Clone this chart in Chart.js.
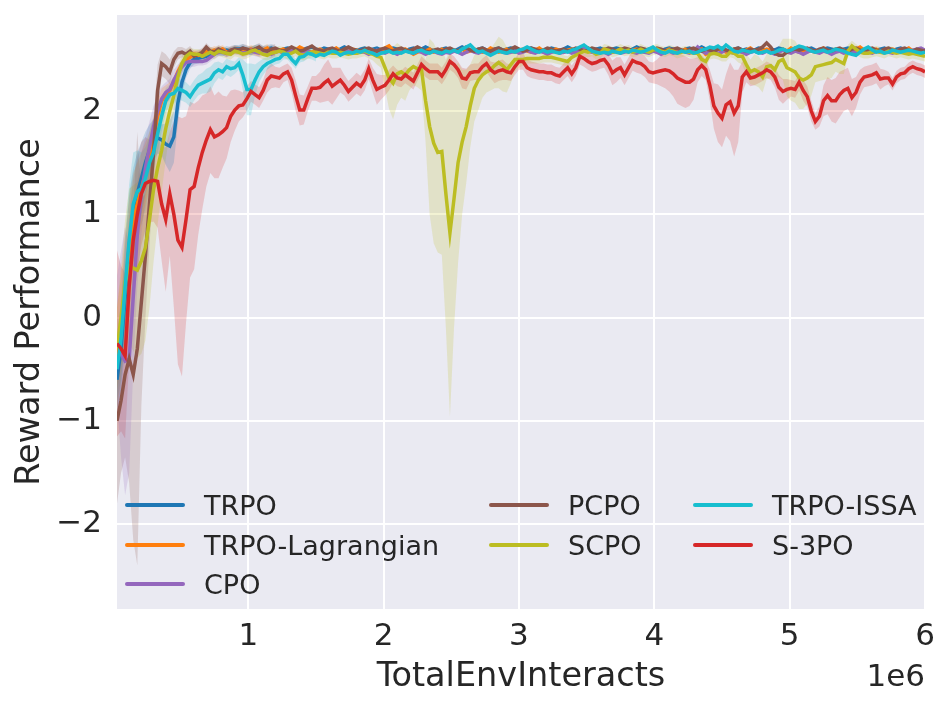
<!DOCTYPE html>
<html>
<head>
<meta charset="utf-8">
<script src="https://cdn.jsdelivr.net/npm/chart.js@4.4.1/dist/chart.umd.min.js"></script>
<style>
  html, body { margin: 0; padding: 0; background: #fff; }
  #wrap { width: 950px; height: 710px; }
</style>
</head>
<body>
<div id="wrap"><canvas id="chart" width="950" height="710"></canvas></div>
<script>
// one point every 30000 env steps, 200 epochs
const stepsPerEpoch = 30000;
const epochs = 200;
const totalEnvInteracts = [];
for (let i = 1; i <= epochs; i++) totalEnvInteracts.push(i * stepsPerEpoch);

const xTicks = [1e6, 2e6, 3e6, 4e6, 5e6, 6e6];
const yTicks = [-2, -1, 0, 1, 2];

const trpo = [
  -0.60, -0.30, 0.20, 0.70, 1.00, 1.20, 1.35, 1.50, 1.62, 1.72,
  1.74, 1.72, 1.68, 1.66, 1.75, 2.08, 2.28, 2.40, 2.47, 2.50,
  2.51, 2.52, 2.53, 2.55, 2.57, 2.58, 2.57, 2.59, 2.58, 2.60,
  2.60, 2.61, 2.59, 2.58, 2.60, 2.61, 2.59, 2.60, 2.61, 2.59,
  2.58, 2.60, 2.61, 2.60, 2.59, 2.58, 2.60, 2.61, 2.62, 2.60,
  2.59, 2.61, 2.60, 2.58, 2.59, 2.60, 2.62, 2.60, 2.59, 2.58,
  2.60, 2.61, 2.59, 2.60, 2.61, 2.59, 2.58, 2.60, 2.61, 2.60,
  2.59, 2.58, 2.60, 2.61, 2.59, 2.60, 2.62, 2.60, 2.58, 2.59,
  2.60, 2.61, 2.59, 2.58, 2.60, 2.62, 2.60, 2.59, 2.58, 2.60,
  2.61, 2.59, 2.58, 2.60, 2.61, 2.59, 2.60, 2.61, 2.60, 2.59,
  2.58, 2.60, 2.61, 2.59, 2.60, 2.58, 2.59, 2.61, 2.60, 2.59,
  2.60, 2.62, 2.60, 2.59, 2.58, 2.60, 2.61, 2.59, 2.60, 2.61,
  2.59, 2.58, 2.60, 2.61, 2.60, 2.59, 2.58, 2.60, 2.62, 2.60,
  2.59, 2.60, 2.61, 2.59, 2.58, 2.60, 2.61, 2.60, 2.59, 2.58,
  2.60, 2.61, 2.59, 2.60, 2.62, 2.60, 2.58, 2.59, 2.61, 2.60,
  2.59, 2.58, 2.60, 2.61, 2.59, 2.60, 2.58, 2.59, 2.61, 2.60,
  2.58, 2.60, 2.59, 2.61, 2.60, 2.58, 2.59, 2.61, 2.60, 2.59,
  2.60, 2.61, 2.59, 2.58, 2.60, 2.61, 2.60, 2.59, 2.58, 2.60,
  2.61, 2.59, 2.60, 2.58, 2.59, 2.61, 2.60, 2.59, 2.60, 2.61,
  2.59, 2.58, 2.60, 2.61, 2.59, 2.60, 2.58, 2.59, 2.60, 2.58
];
const trpoLagrangian = [
  -0.40, -0.10, 0.30, 0.65, 0.95, 1.10, 1.25, 1.40, 1.55, 1.75,
  1.95, 2.10, 2.15, 2.20, 2.28, 2.38, 2.45, 2.50, 2.52, 2.55,
  2.54, 2.56, 2.58, 2.57, 2.59, 2.58, 2.60, 2.57, 2.58, 2.59,
  2.59, 2.57, 2.58, 2.60, 2.58, 2.57, 2.59, 2.61, 2.58, 2.57,
  2.59, 2.60, 2.58, 2.57, 2.59, 2.62, 2.60, 2.58, 2.57, 2.59,
  2.60, 2.58, 2.57, 2.59, 2.61, 2.58, 2.57, 2.58, 2.60, 2.59,
  2.57, 2.58, 2.60, 2.59, 2.57, 2.58, 2.61, 2.63, 2.59, 2.58,
  2.57, 2.60, 2.58, 2.55, 2.57, 2.59, 2.58, 2.60, 2.57, 2.58,
  2.60, 2.58, 2.57, 2.59, 2.58, 2.60, 2.57, 2.58, 2.60, 2.59,
  2.57, 2.58, 2.61, 2.59, 2.57, 2.58, 2.60, 2.58, 2.57, 2.59,
  2.60, 2.58, 2.57, 2.59, 2.61, 2.58, 2.57, 2.58, 2.60, 2.59,
  2.57, 2.59, 2.60, 2.58, 2.57, 2.59, 2.61, 2.58, 2.57, 2.58,
  2.60, 2.59, 2.57, 2.58, 2.60, 2.58, 2.57, 2.59, 2.60, 2.58,
  2.57, 2.59, 2.61, 2.58, 2.57, 2.58, 2.60, 2.59, 2.57, 2.58,
  2.60, 2.58, 2.57, 2.59, 2.60, 2.55, 2.57, 2.58, 2.60, 2.59,
  2.57, 2.58, 2.60, 2.58, 2.57, 2.59, 2.61, 2.58, 2.57, 2.58,
  2.60, 2.59, 2.57, 2.58, 2.60, 2.58, 2.61, 2.59, 2.57, 2.58,
  2.60, 2.58, 2.57, 2.59, 2.61, 2.58, 2.57, 2.58, 2.60, 2.59,
  2.57, 2.58, 2.60, 2.62, 2.59, 2.57, 2.58, 2.60, 2.58, 2.57,
  2.59, 2.60, 2.58, 2.57, 2.59, 2.61, 2.58, 2.57, 2.58, 2.59
];
const cpo = [
  -0.20, -0.35, -0.42, -0.40, 0.20, 0.80, 1.20, 1.45, 1.65, 1.85,
  2.00, 2.12, 2.18, 2.21, 2.30, 2.37, 2.43, 2.47, 2.48, 2.48,
  2.48, 2.48, 2.49, 2.52, 2.55, 2.57, 2.58, 2.56, 2.57, 2.59,
  2.58, 2.56, 2.57, 2.59, 2.57, 2.56, 2.58, 2.57, 2.55, 2.57,
  2.58, 2.56, 2.57, 2.59, 2.58, 2.56, 2.57, 2.58, 2.56, 2.57,
  2.59, 2.57, 2.56, 2.58, 2.57, 2.55, 2.57, 2.58, 2.57, 2.56,
  2.58, 2.57, 2.55, 2.57, 2.59, 2.57, 2.56, 2.58, 2.57, 2.55,
  2.57, 2.59, 2.57, 2.56, 2.58, 2.57, 2.55, 2.57, 2.58, 2.56,
  2.55, 2.57, 2.56, 2.58, 2.57, 2.55, 2.57, 2.59, 2.57, 2.56,
  2.58, 2.57, 2.56, 2.58, 2.60, 2.57, 2.56, 2.57, 2.58, 2.56,
  2.57, 2.59, 2.57, 2.56, 2.58, 2.57, 2.55, 2.57, 2.58, 2.56,
  2.57, 2.58, 2.56, 2.57, 2.59, 2.62, 2.58, 2.57, 2.56, 2.58,
  2.57, 2.55, 2.57, 2.58, 2.56, 2.57, 2.59, 2.57, 2.56, 2.58,
  2.57, 2.56, 2.58, 2.57, 2.55, 2.57, 2.58, 2.56, 2.57, 2.59,
  2.57, 2.56, 2.58, 2.62, 2.58, 2.56, 2.57, 2.58, 2.56, 2.57,
  2.59, 2.57, 2.56, 2.58, 2.57, 2.55, 2.57, 2.58, 2.57, 2.56,
  2.58, 2.57, 2.55, 2.57, 2.59, 2.57, 2.56, 2.58, 2.57, 2.55,
  2.57, 2.59, 2.57, 2.56, 2.58, 2.57, 2.55, 2.57, 2.58, 2.56,
  2.57, 2.58, 2.56, 2.57, 2.59, 2.57, 2.56, 2.58, 2.57, 2.59,
  2.57, 2.56, 2.58, 2.60, 2.58, 2.57, 2.59, 2.60, 2.61, 2.59
];
const pcpo = [
  -1.00, -0.80, -0.55, -0.40, -0.55, -0.30, 0.15, 0.60, 1.10, 1.60,
  2.20, 2.46, 2.43, 2.38, 2.50, 2.56, 2.57, 2.55, 2.58, 2.53,
  2.55, 2.57, 2.62, 2.58, 2.57, 2.60, 2.58, 2.56, 2.59, 2.60,
  2.59, 2.61, 2.60, 2.58, 2.60, 2.62, 2.59, 2.58, 2.60, 2.61,
  2.59, 2.58, 2.60, 2.62, 2.60, 2.58, 2.59, 2.61, 2.63, 2.60,
  2.59, 2.58, 2.60, 2.61, 2.59, 2.58, 2.60, 2.62, 2.60, 2.59,
  2.58, 2.60, 2.61, 2.59, 2.58, 2.60, 2.61, 2.59, 2.58, 2.60,
  2.61, 2.59, 2.58, 2.60, 2.62, 2.60, 2.58, 2.57, 2.59, 2.60,
  2.58, 2.60, 2.61, 2.59, 2.58, 2.60, 2.62, 2.59, 2.58, 2.60,
  2.61, 2.59, 2.58, 2.60, 2.61, 2.59, 2.58, 2.60, 2.62, 2.60,
  2.58, 2.59, 2.61, 2.60, 2.58, 2.59, 2.61, 2.60, 2.58, 2.59,
  2.60, 2.58, 2.59, 2.61, 2.60, 2.58, 2.59, 2.61, 2.60, 2.58,
  2.59, 2.61, 2.60, 2.58, 2.59, 2.61, 2.60, 2.58, 2.59, 2.61,
  2.60, 2.58, 2.59, 2.61, 2.60, 2.58, 2.59, 2.60, 2.61, 2.59,
  2.58, 2.60, 2.61, 2.59, 2.58, 2.60, 2.59, 2.58, 2.60, 2.61,
  2.59, 2.58, 2.60, 2.61, 2.59, 2.58, 2.60, 2.59, 2.60, 2.62,
  2.66, 2.62, 2.56, 2.54, 2.54, 2.57, 2.59, 2.60, 2.59, 2.60,
  2.61, 2.59, 2.58, 2.60, 2.61, 2.59, 2.58, 2.60, 2.61, 2.59,
  2.58, 2.60, 2.61, 2.59, 2.58, 2.60, 2.61, 2.59, 2.58, 2.60,
  2.61, 2.59, 2.58, 2.60, 2.61, 2.59, 2.58, 2.60, 2.59, 2.58
];
const scpo = [
  -0.30, 0.00, 0.35, 0.50, 0.48, 0.46, 0.55, 0.68, 0.95, 1.24,
  1.45, 1.62, 1.83, 2.00, 2.15, 2.33, 2.46, 2.53, 2.56, 2.55,
  2.55, 2.53, 2.55, 2.57, 2.55, 2.58, 2.57, 2.56, 2.55, 2.58,
  2.57, 2.55, 2.56, 2.58, 2.59, 2.57, 2.55, 2.54, 2.56, 2.57,
  2.58, 2.57, 2.55, 2.56, 2.58, 2.55, 2.54, 2.56, 2.57, 2.57,
  2.56, 2.55, 2.57, 2.56, 2.56, 2.57, 2.56, 2.55, 2.56, 2.56,
  2.57, 2.58, 2.56, 2.55, 2.53, 2.52, 2.42, 2.32, 2.27, 2.36,
  2.38, 2.35, 2.40, 2.43, 2.41, 2.40, 2.10, 1.85, 1.69, 1.60,
  1.61, 1.20, 0.82, 1.15, 1.50, 1.70, 1.85, 2.05, 2.22, 2.30,
  2.35, 2.38, 2.40, 2.44, 2.47, 2.44, 2.40, 2.45, 2.50, 2.50,
  2.50, 2.51, 2.51, 2.51, 2.51, 2.52, 2.52, 2.52, 2.51, 2.50,
  2.49, 2.48, 2.52, 2.54, 2.56, 2.58, 2.57, 2.58, 2.55, 2.56,
  2.60, 2.59, 2.57, 2.58, 2.60, 2.58, 2.59, 2.57, 2.58, 2.60,
  2.58, 2.57, 2.59, 2.60, 2.58, 2.57, 2.59, 2.58, 2.56, 2.57,
  2.58, 2.57, 2.56, 2.56, 2.50, 2.48, 2.55, 2.56, 2.55, 2.53,
  2.53, 2.57, 2.56, 2.53, 2.53, 2.45, 2.38, 2.40, 2.38, 2.33,
  2.43, 2.44, 2.40, 2.48, 2.50, 2.42, 2.40, 2.38, 2.32, 2.30,
  2.32, 2.35, 2.43, 2.44, 2.45, 2.46, 2.47, 2.50, 2.48, 2.46,
  2.58, 2.63, 2.60, 2.57, 2.56, 2.56, 2.57, 2.58, 2.57, 2.56,
  2.58, 2.57, 2.56, 2.57, 2.56, 2.55, 2.56, 2.55, 2.54, 2.53
];
const trpoIssa = [
  -0.50, -0.20, 0.30, 0.75, 1.10, 1.22, 1.25, 1.35, 1.50, 1.60,
  1.78, 1.95, 2.10, 2.16, 2.17, 2.22, 2.20, 2.18, 2.14, 2.20,
  2.25, 2.27, 2.29, 2.31, 2.37, 2.40, 2.38, 2.43, 2.41, 2.42,
  2.46, 2.35, 2.21, 2.21, 2.30, 2.38, 2.43, 2.46, 2.48, 2.50,
  2.51, 2.55, 2.55, 2.50, 2.46, 2.52, 2.53, 2.56, 2.55, 2.53,
  2.55, 2.54, 2.56, 2.58, 2.57, 2.54, 2.56, 2.57, 2.56, 2.58,
  2.57, 2.59, 2.57, 2.56, 2.54, 2.56, 2.57, 2.58, 2.56, 2.57,
  2.56, 2.58, 2.57, 2.56, 2.58, 2.59, 2.57, 2.56, 2.58, 2.57,
  2.56, 2.58, 2.57, 2.59, 2.57, 2.60, 2.62, 2.64, 2.60, 2.57,
  2.58, 2.56, 2.54, 2.56, 2.58, 2.57, 2.56, 2.58, 2.57, 2.59,
  2.60, 2.62, 2.60, 2.58, 2.57, 2.59, 2.57, 2.58, 2.57, 2.56,
  2.58, 2.57, 2.59, 2.60, 2.62, 2.64, 2.61, 2.58, 2.57, 2.56,
  2.57, 2.56, 2.58, 2.57, 2.56, 2.58, 2.57, 2.59, 2.58, 2.57,
  2.58, 2.60, 2.62, 2.59, 2.57, 2.56, 2.58, 2.57, 2.56, 2.58,
  2.57, 2.58, 2.56, 2.57, 2.59, 2.60, 2.62, 2.61, 2.63, 2.60,
  2.64, 2.61, 2.58, 2.57, 2.59, 2.58, 2.57, 2.58, 2.56, 2.57,
  2.58, 2.56, 2.57, 2.59, 2.60, 2.58, 2.59, 2.61, 2.63, 2.62,
  2.60, 2.58, 2.57, 2.58, 2.59, 2.57, 2.58, 2.60, 2.59, 2.58,
  2.56, 2.55, 2.54, 2.57, 2.60, 2.62, 2.59, 2.57, 2.58, 2.56,
  2.57, 2.59, 2.58, 2.57, 2.58, 2.59, 2.58, 2.57, 2.56, 2.57
];
const s3po = [
  -0.25, -0.30, -0.37, 0.30, 0.75, 1.00, 1.20, 1.30, 1.32, 1.33,
  1.32, 1.10, 0.95, 1.20, 1.00, 0.75, 0.68, 0.95, 1.24, 1.27,
  1.45, 1.60, 1.72, 1.82, 1.75, 1.77, 1.80, 1.84, 1.95, 2.01,
  2.05, 2.06, 2.12, 2.19, 2.16, 2.13, 2.20, 2.30, 2.34, 2.33,
  2.32, 2.36, 2.38, 2.30, 2.15, 2.01, 2.01, 2.12, 2.22, 2.22,
  2.23, 2.27, 2.30, 2.24, 2.27, 2.30, 2.25, 2.19, 2.23, 2.27,
  2.24, 2.30, 2.41, 2.30, 2.21, 2.23, 2.25, 2.30, 2.36, 2.32,
  2.31, 2.35, 2.32, 2.29, 2.37, 2.45, 2.41, 2.38, 2.38, 2.38,
  2.34, 2.40, 2.48, 2.45, 2.40, 2.32, 2.31, 2.37, 2.38, 2.38,
  2.43, 2.46, 2.40, 2.37, 2.39, 2.40, 2.38, 2.37, 2.43, 2.48,
  2.48, 2.42, 2.40, 2.39, 2.38, 2.38, 2.37, 2.37, 2.35, 2.34,
  2.38, 2.42, 2.36, 2.42, 2.53, 2.51, 2.48, 2.46, 2.47, 2.49,
  2.50, 2.45, 2.37, 2.40, 2.42, 2.35, 2.42, 2.49, 2.47, 2.46,
  2.43, 2.38, 2.37, 2.38, 2.39, 2.40, 2.39, 2.36, 2.32, 2.30,
  2.28, 2.28, 2.31, 2.40, 2.44, 2.40, 2.25, 2.05, 1.98, 1.93,
  2.06, 2.09, 1.98, 2.05, 2.33, 2.38, 2.32, 2.33, 2.35, 2.37,
  2.40, 2.38, 2.33, 2.23, 2.19, 2.21, 2.22, 2.21, 2.28, 2.20,
  2.14, 2.00, 1.90, 1.95, 2.10, 2.15, 2.10, 2.10, 2.16, 2.20,
  2.22, 2.13, 2.18, 2.28, 2.33, 2.34, 2.35, 2.37, 2.31, 2.32,
  2.32, 2.26, 2.33, 2.36, 2.37, 2.41, 2.43, 2.41, 2.40, 2.38
];

// standard deviation of each run, same epochs (shorter arrays stop early)
const trpoStd = [
  0.30, 0.40, 0.50, 0.50, 0.45, 0.40, 0.35, 0.30, 0.25, 0.20,
  0.15, 0.15, 0.20, 0.25, 0.25, 0.20, 0.12, 0.08, 0.06, 0.05,
  0.05, 0.04, 0.04, 0.04, 0.04, 0.04, 0.04, 0.04, 0.04, 0.04,
  0.04, 0.04, 0.04, 0.04, 0.04, 0.04, 0.04, 0.04, 0.04, 0.04
];
const trpoLagrangianStd = [
  0.50, 0.50, 0.50, 0.50, 0.45, 0.40, 0.35, 0.30, 0.25, 0.20,
  0.15, 0.12, 0.10, 0.08, 0.06, 0.05, 0.05, 0.04, 0.04, 0.04,
  0.04, 0.04, 0.04, 0.04, 0.04, 0.04, 0.04, 0.04, 0.04, 0.04,
  0.04, 0.04, 0.04, 0.04, 0.04, 0.04, 0.04, 0.04, 0.04, 0.04
];
const cpoStd = [
  0.60, 1.00, 1.30, 1.10, 0.70, 0.50, 0.40, 0.30, 0.25, 0.20,
  0.15, 0.12, 0.10, 0.10, 0.10, 0.08, 0.06, 0.05, 0.05, 0.05,
  0.04, 0.04, 0.04, 0.04, 0.04, 0.04, 0.04, 0.04, 0.04, 0.04,
  0.04, 0.04, 0.04, 0.04, 0.04, 0.04, 0.04, 0.04, 0.04, 0.04
];
const pcpoStd = [
  0.80, 0.70, 0.80, 1.20, 1.60, 2.10, 1.00, 0.60, 0.40, 0.30,
  0.25, 0.12, 0.12, 0.12, 0.08, 0.06, 0.05, 0.05, 0.05, 0.05,
  0.04, 0.04, 0.04, 0.04, 0.04, 0.04, 0.04, 0.04, 0.04, 0.04,
  0.04, 0.04, 0.04, 0.04, 0.04, 0.04, 0.04, 0.04, 0.04, 0.04
];
const scpoStd = [
  0.40, 0.50, 0.60, 0.75, 0.80, 0.85, 0.90, 0.90, 0.85, 0.70,
  0.55, 0.40, 0.30, 0.20, 0.15, 0.10, 0.08, 0.06, 0.05, 0.05,
  0.05, 0.05, 0.05, 0.05, 0.05, 0.05, 0.05, 0.05, 0.05, 0.05,
  0.05, 0.05, 0.05, 0.05, 0.05, 0.05, 0.05, 0.05, 0.05, 0.05,
  0.05, 0.05, 0.05, 0.05, 0.05, 0.05, 0.05, 0.05, 0.05, 0.05,
  0.05, 0.05, 0.05, 0.05, 0.05, 0.05, 0.05, 0.05, 0.05, 0.05,
  0.05, 0.05, 0.05, 0.06, 0.08, 0.10, 0.20, 0.30, 0.35, 0.30,
  0.25, 0.25, 0.20, 0.18, 0.18, 0.20, 0.40, 0.85, 0.97, 0.97,
  1.00, 1.30, 1.78, 1.25, 0.97, 0.70, 0.55, 0.40, 0.32, 0.29,
  0.22, 0.20, 0.20, 0.22, 0.25, 0.25, 0.22, 0.18, 0.12, 0.08,
  0.06, 0.05, 0.05, 0.05, 0.05, 0.05, 0.05, 0.05, 0.05, 0.05,
  0.05, 0.05, 0.05, 0.05, 0.05, 0.05, 0.05, 0.05, 0.05, 0.05,
  0.05, 0.05, 0.05, 0.05, 0.05, 0.05, 0.05, 0.05, 0.05, 0.05,
  0.05, 0.05, 0.05, 0.05, 0.05, 0.05, 0.05, 0.05, 0.05, 0.05,
  0.05, 0.05, 0.05, 0.05, 0.06, 0.06, 0.05, 0.05, 0.05, 0.05,
  0.05, 0.05, 0.05, 0.06, 0.08, 0.10, 0.12, 0.15, 0.15, 0.15,
  0.12, 0.12, 0.12, 0.15, 0.20, 0.28, 0.30, 0.30, 0.30, 0.28,
  0.25, 0.20, 0.15, 0.15, 0.15, 0.15, 0.15, 0.12, 0.12, 0.10,
  0.06, 0.05, 0.05, 0.05, 0.05, 0.05, 0.05, 0.05, 0.05, 0.05,
  0.05, 0.05, 0.05, 0.05, 0.05, 0.05, 0.05, 0.05, 0.05, 0.05
];
const trpoIssaStd = [
  0.30, 0.40, 0.50, 0.55, 0.50, 0.40, 0.35, 0.30, 0.25, 0.20,
  0.18, 0.15, 0.12, 0.10, 0.10, 0.10, 0.10, 0.10, 0.10, 0.10,
  0.10, 0.10, 0.12, 0.12, 0.10, 0.08, 0.08, 0.08, 0.08, 0.06,
  0.06, 0.15, 0.25, 0.25, 0.15, 0.10, 0.08, 0.06, 0.05, 0.05,
  0.05, 0.05, 0.05, 0.05, 0.05, 0.05, 0.05, 0.05, 0.05, 0.05
];
const s3poStd = [
  0.90, 0.80, 0.80, 0.70, 0.60, 0.55, 0.50, 0.45, 0.40, 0.40,
  0.45, 0.55, 0.70, 0.60, 0.90, 1.20, 1.25, 1.00, 0.85, 0.80,
  0.65, 0.55, 0.45, 0.42, 0.40, 0.42, 0.35, 0.30, 0.25, 0.20,
  0.15, 0.12, 0.12, 0.10, 0.10, 0.10, 0.10, 0.12, 0.12, 0.10,
  0.10, 0.08, 0.08, 0.12, 0.15, 0.15, 0.14, 0.12, 0.12, 0.12,
  0.15, 0.18, 0.20, 0.18, 0.15, 0.12, 0.10, 0.10, 0.10, 0.10,
  0.10, 0.10, 0.10, 0.12, 0.15, 0.12, 0.10, 0.10, 0.08, 0.08,
  0.08, 0.08, 0.08, 0.08, 0.08, 0.08, 0.08, 0.08, 0.08, 0.08,
  0.08, 0.08, 0.08, 0.08, 0.08, 0.10, 0.10, 0.08, 0.08, 0.08,
  0.08, 0.08, 0.08, 0.10, 0.10, 0.10, 0.08, 0.08, 0.08, 0.08,
  0.08, 0.08, 0.08, 0.08, 0.08, 0.08, 0.08, 0.08, 0.08, 0.08,
  0.08, 0.08, 0.08, 0.08, 0.08, 0.08, 0.08, 0.08, 0.08, 0.08,
  0.08, 0.10, 0.12, 0.12, 0.10, 0.10, 0.10, 0.10, 0.10, 0.10,
  0.10, 0.10, 0.10, 0.12, 0.15, 0.18, 0.20, 0.22, 0.25, 0.25,
  0.25, 0.23, 0.20, 0.12, 0.10, 0.10, 0.15, 0.22, 0.28, 0.28,
  0.30, 0.38, 0.42, 0.35, 0.15, 0.10, 0.08, 0.08, 0.08, 0.08,
  0.08, 0.08, 0.10, 0.12, 0.12, 0.10, 0.08, 0.08, 0.08, 0.10,
  0.10, 0.10, 0.08, 0.10, 0.15, 0.18, 0.20, 0.22, 0.22, 0.20,
  0.20, 0.18, 0.15, 0.12, 0.10, 0.10, 0.10, 0.10, 0.10, 0.08,
  0.06, 0.06, 0.06, 0.06, 0.06, 0.06, 0.06, 0.06, 0.06, 0.06
];

const series = [
  { label: 'TRPO', mean: trpo, sd: trpoStd, color: '31,119,180', col: 0, row: 0 },
  { label: 'TRPO-Lagrangian', mean: trpoLagrangian, sd: trpoLagrangianStd, color: '255,127,14', col: 0, row: 1 },
  { label: 'CPO', mean: cpo, sd: cpoStd, color: '148,103,189', col: 0, row: 2 },
  { label: 'PCPO', mean: pcpo, sd: pcpoStd, color: '140,86,75', col: 1, row: 0 },
  { label: 'SCPO', mean: scpo, sd: scpoStd, color: '188,189,34', col: 1, row: 1 },
  { label: 'TRPO-ISSA', mean: trpoIssa, sd: trpoIssaStd, color: '23,190,207', col: 2, row: 0 },
  { label: 'S-3PO', mean: s3po, sd: s3poStd, color: '214,39,40', col: 2, row: 1 }
];

const datasets = [];
// shaded bands first (drawn under every line)
series.forEach(s => {
  const upper = s.sd.map((d, i) => ({ x: totalEnvInteracts[i], y: s.mean[i] + d }));
  const lower = s.sd.map((d, i) => ({ x: totalEnvInteracts[i], y: s.mean[i] - d }));
  datasets.push({ data: upper, borderWidth: 0, pointRadius: 0, fill: '+1',
    backgroundColor: 'rgba(' + s.color + ',0.2)', order: 100 });
  datasets.push({ data: lower, borderWidth: 0, pointRadius: 0, fill: false, order: 100 });
});
series.forEach((s, k) => {
  datasets.push({
    label: s.label,
    data: s.mean.map((y, i) => ({ x: totalEnvInteracts[i], y })),
    borderColor: 'rgb(' + s.color + ')',
    borderWidth: 3.5,
    pointRadius: 0,
    fill: false,
    tension: 0,
    order: 50 - k
  });
});

const textColor = '#262626';
const fontFamily = '"DejaVu Sans", sans-serif';

const darkgrid = {
  id: 'darkgrid',
  beforeDraw(chart) {
    const { ctx, chartArea: a } = chart;
    ctx.save();
    ctx.fillStyle = '#EAEAF2';
    ctx.fillRect(a.left, a.top, a.right - a.left, a.bottom - a.top);
    ctx.restore();
  },
  afterDraw(chart) {
    const { ctx, chartArea: a } = chart;
    ctx.save();
    // legend, three columns inside the axes
    const colX = [127, 491, 695];
    const rowY = [505, 545, 584];
    ctx.font = '27px ' + fontFamily;
    ctx.textBaseline = 'alphabetic';
    series.forEach(s => {
      const x = colX[s.col], y = rowY[s.row];
      ctx.strokeStyle = 'rgb(' + s.color + ')';
      ctx.lineWidth = 4;
      ctx.lineCap = 'round';
      ctx.beginPath();
      ctx.moveTo(x, y);
      ctx.lineTo(x + 56, y);
      ctx.stroke();
      ctx.fillStyle = textColor;
      ctx.textAlign = 'left';
      ctx.fillText(s.label, x + 77, y + 10);
    });
    // offset text of the x axis
    ctx.font = '31px ' + fontFamily;
    ctx.textAlign = 'right';
    ctx.fillText('1e6', a.right, 686);
    ctx.restore();
  }
};

new Chart(document.getElementById('chart'), {
  type: 'line',
  data: { datasets },
  options: {
    responsive: false,
    animation: false,
    devicePixelRatio: 1,
    layout: { padding: { left: 0, right: 25, top: 15, bottom: 0 } },
    plugins: {
      legend: { display: false },
      tooltip: { enabled: false },
      filler: { drawTime: 'beforeDatasetsDraw' }
    },
    scales: {
      x: {
        type: 'linear',
        min: stepsPerEpoch,
        max: 6e6,
        afterFit: sc => { sc.height = 101; sc.paddingLeft = 0; sc.paddingRight = 0; },
        afterBuildTicks: sc => { sc.ticks = xTicks.map(v => ({ value: v })); },
        grid: { color: '#ffffff', lineWidth: 2, drawTicks: false },
        border: { display: false },
        ticks: {
          color: textColor,
          padding: 9,
          font: { family: fontFamily, size: 31 },
          callback: v => String(v / 1e6)
        },
        title: {
          display: true,
          text: 'TotalEnvInteracts',
          color: textColor,
          font: { family: fontFamily, size: 33.5 },
          padding: { top: 0, bottom: 13 }
        }
      },
      y: {
        min: -2.82,
        max: 2.93,
        afterFit: sc => { sc.width = 117; sc.paddingTop = 0; sc.paddingBottom = 0; },
        afterBuildTicks: sc => { sc.ticks = yTicks.map(v => ({ value: v })); },
        grid: { color: '#ffffff', lineWidth: 2, drawTicks: false },
        border: { display: false },
        ticks: {
          color: textColor,
          padding: 15,
          font: { family: fontFamily, size: 31 },
          callback: v => String(v).replace('-', '\u2212')
        },
        title: {
          display: true,
          text: 'Reward Performance',
          color: textColor,
          font: { family: fontFamily, size: 33.5 },
          padding: { top: 10, bottom: 0 }
        }
      }
    }
  },
  plugins: [darkgrid]
});
</script>
</body>
</html>
